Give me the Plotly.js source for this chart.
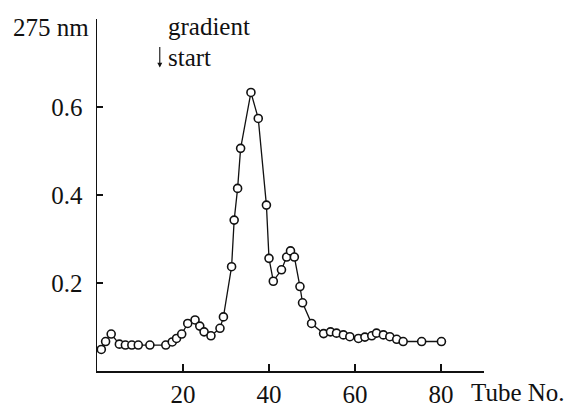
<!DOCTYPE html>
<html>
<head>
<meta charset="utf-8">
<script src="https://cdn.plot.ly/plotly-3.0.1.min.js"></script>
<style>html,body{margin:0;padding:0;background:#fff;}#chart{width:584px;height:407px;}</style>
</head>
<body>
<div id="chart"></div>
<script>
// Tube number (x) and absorbance at 275 nm (y)
const tubeNo = [1, 2, 3.3, 5.2, 6.6, 8.1, 9.6, 12.3, 16, 17.5, 18.5, 19.7, 21.1, 22.8, 23.9, 24.9, 26.5, 28.6, 29.4,
  31.3, 31.9, 32.7, 33.4, 35.8, 37.5, 39.4, 40, 41, 42.9, 44.1, 45, 45.9, 47.2, 47.8, 49.9,
  52.7, 54.3, 55.7, 57.3, 58.8, 60.8, 62.3, 63.9, 65, 66.6, 68.1, 69.7, 71.2, 75.5, 80.1];
const absorbance = [0.049, 0.067, 0.084, 0.061, 0.059, 0.059, 0.059, 0.059, 0.059, 0.066, 0.074, 0.084, 0.108, 0.116, 0.102, 0.089, 0.080, 0.097, 0.123,
  0.237, 0.343, 0.415, 0.506, 0.633, 0.574, 0.377, 0.256, 0.204, 0.230, 0.259, 0.273, 0.259, 0.192, 0.155, 0.108,
  0.085, 0.089, 0.086, 0.082, 0.078, 0.074, 0.077, 0.080, 0.086, 0.082, 0.078, 0.072, 0.067, 0.067, 0.067];
const xTicks = [20, 40, 60, 80];
const yTicks = [0.2, 0.4, 0.6];
const yTickText = ['0.2', '0.4', '0.6'];
const gradientStartTube = 14.6;

const font = {family: '"Liberation Serif", "DejaVu Serif", serif', size: 25, color: '#111'};

const trace = {
  x: tubeNo, y: absorbance, type: 'scatter', mode: 'lines+markers',
  line: {color: '#111', width: 1.3},
  marker: {symbol: 'circle', size: 8, color: '#fff', line: {color: '#111', width: 1.6}},
  hoverinfo: 'skip'
};

const layout = {
  width: 584, height: 407,
  margin: {l: 97, r: 100, t: 19, b: 36},
  paper_bgcolor: '#fff', plot_bgcolor: '#fff',
  showlegend: false,
  font: font,
  xaxis: {
    range: [0, 90], tickvals: xTicks, ticktext: xTicks.map(String),
    ticks: 'inside', ticklen: 7, tickwidth: 1.2, tickcolor: '#111',
    showline: true, linecolor: '#111', linewidth: 1.5,
    showgrid: false, zeroline: false, tickfont: font
  },
  yaxis: {
    range: [0, 0.8], tickvals: yTicks, ticktext: yTickText,
    ticks: 'inside', ticklen: 6, tickwidth: 1.2, tickcolor: '#111',
    showline: true, linecolor: '#111', linewidth: 1.5,
    showgrid: false, zeroline: false, tickfont: font, ticklabelstandoff: 8
  },
  annotations: [
    {text: '275 nm', xref: 'paper', yref: 'paper', x: -0.015, y: 0.975, xanchor: 'right', yanchor: 'middle', showarrow: false, font: font},
    {text: 'gradient', xref: 'paper', yref: 'paper', x: 0.178, y: 0.98, xanchor: 'left', yanchor: 'middle', showarrow: false, font: font},
    {text: '', xref: 'x', yref: 'paper', x: gradientStartTube, y: 0.862, ax: 0, ay: -22, showarrow: true, arrowhead: 2, arrowsize: 0.9, arrowwidth: 1.1, arrowcolor: '#111', standoff: 0},
    {text: 'start', xref: 'paper', yref: 'paper', x: 0.178, y: 0.89, xanchor: 'left', yanchor: 'middle', showarrow: false, font: font},
    {text: 'Tube No.', xref: 'paper', yref: 'paper', x: 0.962, y: -0.06, xanchor: 'left', yanchor: 'middle', showarrow: false, font: font}
  ]
};

Plotly.newPlot('chart', [trace], layout, {staticPlot: true, displayModeBar: false});
</script>
</body>
</html>
